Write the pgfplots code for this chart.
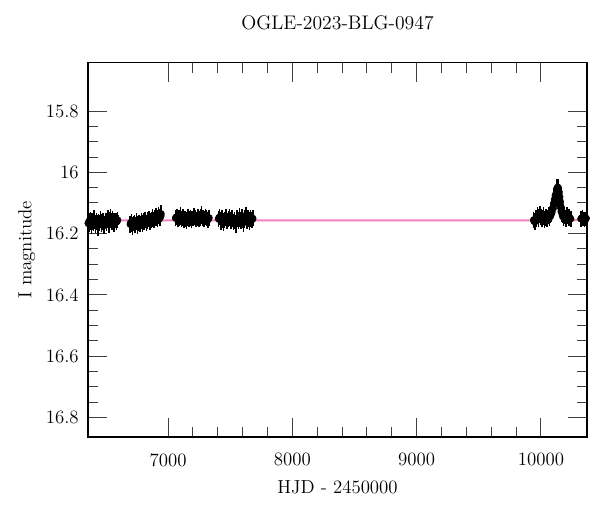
\documentclass[border=0pt]{standalone}
\usepackage{pgfplots}
\usepackage{pgfplotstable}
\pgfplotsset{compat=1.18}

\pgfplotstableread{
x y e
6355 16.160 0.014
6365 16.168 0.016
6375 16.155 0.015
6385 16.172 0.017
6395 16.162 0.014
6405 16.150 0.016
6415 16.170 0.018
6425 16.158 0.015
6435 16.175 0.022
6445 16.165 0.016
6455 16.152 0.014
6465 16.168 0.017
6475 16.160 0.015
6485 16.174 0.016
6495 16.157 0.014
6505 16.166 0.016
6515 16.148 0.015
6525 16.170 0.017
6535 16.145 0.014
6545 16.160 0.016
6555 16.152 0.015
6565 16.168 0.016
6575 16.158 0.014
6585 16.163 0.016
6595 16.155 0.015
6695 16.170 0.016
6705 16.162 0.015
6715 16.176 0.017
6725 16.166 0.014
6735 16.172 0.016
6745 16.160 0.015
6755 16.174 0.017
6765 16.165 0.016
6775 16.170 0.014
6785 16.158 0.015
6795 16.168 0.016
6805 16.162 0.017
6815 16.156 0.014
6825 16.166 0.015
6835 16.158 0.016
6845 16.152 0.014
6855 16.162 0.017
6865 16.155 0.015
6875 16.148 0.016
6885 16.158 0.014
6895 16.150 0.015
6905 16.142 0.016
6915 16.155 0.014
6925 16.140 0.016
6935 16.150 0.015
6945 16.135 0.016
7060 16.150 0.015
7070 16.145 0.016
7080 16.155 0.014
7090 16.148 0.015
7100 16.140 0.016
7110 16.152 0.014
7120 16.146 0.015
7130 16.155 0.016
7140 16.150 0.014
7150 16.158 0.015
7160 16.145 0.016
7170 16.152 0.014
7180 16.148 0.015
7190 16.156 0.016
7200 16.150 0.014
7210 16.142 0.015
7220 16.150 0.016
7230 16.155 0.014
7240 16.145 0.015
7250 16.152 0.016
7260 16.148 0.014
7270 16.138 0.016
7280 16.150 0.015
7290 16.155 0.014
7300 16.145 0.016
7310 16.150 0.015
7320 16.156 0.014
7330 16.148 0.015
7405 16.152 0.016
7415 16.145 0.015
7425 16.160 0.017
7435 16.150 0.016
7445 16.165 0.015
7455 16.155 0.016
7465 16.148 0.017
7475 16.160 0.015
7485 16.152 0.016
7495 16.145 0.015
7505 16.158 0.017
7515 16.150 0.016
7525 16.162 0.015
7535 16.155 0.016
7545 16.168 0.018
7555 16.150 0.015
7565 16.158 0.016
7575 16.145 0.017
7585 16.160 0.015
7595 16.148 0.016
7605 16.165 0.018
7615 16.152 0.015
7625 16.140 0.016
7635 16.158 0.015
7645 16.150 0.016
7655 16.162 0.017
7665 16.148 0.015
7675 16.155 0.016
7682 16.150 0.015
9940 16.155 0.016
9950 16.162 0.017
9960 16.150 0.016
9970 16.140 0.015
9980 16.150 0.016
9990 16.135 0.015
10000 16.145 0.016
10010 16.152 0.016
10020 16.140 0.015
10030 16.155 0.016
10040 16.145 0.015
10050 16.150 0.016
10060 16.140 0.015
10070 16.148 0.016
10080 16.135 0.015
10090 16.125 0.016
10100 16.110 0.016
10108 16.095 0.015
10115 16.080 0.016
10120 16.070 0.015
10125 16.060 0.016
10130 16.050 0.016
10135 16.048 0.015
10140 16.058 0.016
10145 16.070 0.015
10150 16.088 0.016
10155 16.105 0.015
10160 16.118 0.016
10170 16.135 0.015
10180 16.148 0.016
10190 16.140 0.015
10200 16.150 0.016
10210 16.138 0.015
10225 16.148 0.016
10240 16.152 0.015
10320 16.152 0.014
10335 16.148 0.015
10350 16.155 0.014
10365 16.150 0.015
}\datatable

\pgfplotstableread{
x y e
6360 16.166 0.012
6370 16.158 0.013
6380 16.164 0.012
6390 16.156 0.013
6400 16.168 0.012
6410 16.160 0.013
6420 16.165 0.012
6430 16.162 0.013
6440 16.158 0.012
6450 16.166 0.013
6460 16.160 0.012
6470 16.164 0.013
6480 16.156 0.012
6490 16.166 0.013
6500 16.160 0.012
6510 16.158 0.013
6520 16.162 0.012
6530 16.155 0.013
6540 16.158 0.012
6550 16.164 0.013
6560 16.156 0.012
6570 16.162 0.013
6580 16.160 0.012
6590 16.158 0.013
6700 16.166 0.012
6710 16.170 0.013
6720 16.168 0.012
6730 16.164 0.013
6740 16.168 0.012
6750 16.166 0.013
6760 16.168 0.012
6770 16.162 0.013
6780 16.164 0.012
6790 16.162 0.013
6800 16.166 0.012
6810 16.160 0.013
6820 16.160 0.012
6830 16.162 0.013
6840 16.156 0.012
6850 16.158 0.013
6860 16.156 0.012
6870 16.152 0.013
6880 16.154 0.012
6890 16.152 0.013
6900 16.148 0.012
6910 16.150 0.013
6920 16.146 0.012
6930 16.144 0.013
6940 16.142 0.012
7065 16.148 0.012
7075 16.150 0.013
7085 16.152 0.012
7095 16.146 0.013
7105 16.148 0.012
7115 16.150 0.013
7125 16.152 0.012
7135 16.150 0.013
7145 16.154 0.012
7155 16.150 0.013
7165 16.148 0.012
7175 16.152 0.013
7185 16.150 0.012
7195 16.152 0.013
7205 16.146 0.012
7215 16.148 0.013
7225 16.152 0.012
7235 16.150 0.013
7245 16.148 0.012
7255 16.150 0.013
7265 16.144 0.012
7275 16.146 0.013
7285 16.152 0.012
7295 16.150 0.013
7305 16.148 0.012
7315 16.152 0.013
7325 16.150 0.012
7410 16.150 0.012
7420 16.154 0.013
7430 16.156 0.012
7440 16.158 0.013
7450 16.160 0.012
7460 16.152 0.013
7470 16.156 0.012
7480 16.156 0.013
7490 16.150 0.012
7500 16.152 0.013
7510 16.154 0.012
7520 16.156 0.013
7530 16.158 0.012
7540 16.162 0.013
7550 16.158 0.012
7560 16.154 0.013
7570 16.152 0.012
7580 16.154 0.013
7590 16.154 0.012
7600 16.158 0.013
7610 16.158 0.012
7620 16.148 0.013
7630 16.150 0.012
7640 16.154 0.013
7650 16.156 0.012
7660 16.154 0.013
7670 16.152 0.012
7678 16.152 0.013
9945 16.158 0.012
9955 16.156 0.013
9965 16.146 0.012
9975 16.146 0.013
9985 16.142 0.012
9995 16.140 0.013
10005 16.148 0.012
10015 16.146 0.013
10025 16.148 0.012
10035 16.150 0.013
10045 16.148 0.012
10055 16.146 0.013
10065 16.144 0.012
10075 16.142 0.013
10085 16.132 0.012
10095 16.118 0.013
10104 16.102 0.012
10112 16.088 0.013
10118 16.075 0.012
10128 16.055 0.013
10138 16.052 0.012
10143 16.064 0.013
10148 16.080 0.012
10153 16.096 0.013
10158 16.112 0.012
10165 16.128 0.013
10175 16.142 0.012
10185 16.144 0.013
10195 16.146 0.012
10205 16.144 0.013
10218 16.146 0.012
10232 16.150 0.013
10328 16.150 0.012
10342 16.152 0.013
10358 16.152 0.012
}\datatableb

\pgfplotstableread{
x y
6356 16.157
10000 16.157
10040 16.155
10070 16.150
10090 16.138
10100 16.126
10110 16.108
10118 16.088
10125 16.066
10130 16.053
10133 16.048
10136 16.050
10141 16.060
10147 16.078
10153 16.098
10160 16.118
10168 16.134
10180 16.146
10200 16.153
10240 16.156
10370 16.157
}\modeltable

\begin{document}
\begin{tikzpicture}
\useasboundingbox (0,0) rectangle (360pt,307.2pt);
\begin{axis}[
  at={(52.8pt,45pt)}, anchor=south west,
  scale only axis,
  width=299.4pt, height=224.6pt,
  xmin=6356, xmax=10370,
  ymin=15.642, ymax=16.864,
  y dir=reverse,
  xtick={7000,8000,9000,10000},
  minor x tick num=4,
  ytick={15.8,16,16.2,16.4,16.6,16.8},
  minor y tick num=3,
  scaled x ticks=false,
  /pgf/number format/1000 sep={},
  /pgf/number format/assume math mode=true,
  tick align=inside,
  major tick length=11.4pt,
  minor tick length=6pt,
  every tick/.style={line width=0.6pt, black!75},
  axis line style={line width=0.9pt, black},
  font=\fontsize{11.3}{13}\selectfont,
  xticklabel style={anchor=north, inner sep=0pt, yshift=-9.6pt},
  yticklabel style={anchor=east, inner sep=0pt, xshift=-5.4pt},
  title={OGLE-2023-BLG-0947},
  title style={at={([yshift=13.6pt]axis description cs:0.5,1)}, anchor=base, inner sep=0pt, font=\fontsize{11.8}{13}\selectfont},
  xlabel={HJD - 2450000},
  xlabel style={at={([yshift=-25.8pt]axis description cs:0.5,0)}, anchor=north, inner sep=0pt},
  ylabel={I magnitude},
  ylabel style={at={([xshift=-42pt]axis description cs:0,0.5)}, anchor=north, inner sep=0pt, rotate=0},
]
\addplot[only marks, mark=*, mark size=1.9pt, black,
  error bars/.cd, y dir=both, y explicit,
  error bar style={line width=1.0pt, black},
  error mark options={mark size=2.0pt, line width=0.9pt, black}]
  table[x=x, y=y, y error=e] {\datatable};
\addplot[only marks, mark=*, mark size=2.2pt, black,
  error bars/.cd, y dir=both, y explicit,
  error bar style={line width=1.0pt, black},
  error mark options={mark size=2.0pt, line width=0.9pt, black}]
  table[x=x, y=y, y error=e] {\datatableb};
\addplot[no marks, magenta, opacity=0.5, line width=1.2pt] table[x=x, y=y] {\modeltable};
\end{axis}
\end{tikzpicture}
\end{document}
